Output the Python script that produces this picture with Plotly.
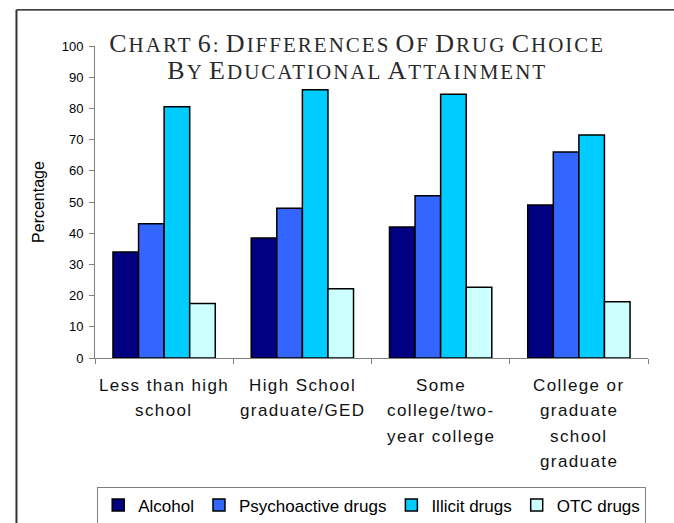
import plotly.graph_objects as go

# Education levels (x categories) and drug-choice percentages per series
categories = [
    "Less than high<br>school",
    "High School<br>graduate/GED",
    "Some<br>college/two-<br>year college",
    "College or<br>graduate<br>school<br>graduate",
]
alcohol = [34, 38.5, 42, 49]
psychoactive = [43, 48, 52, 66]
illicit = [80.5, 86, 84.5, 71.5]
otc = [17.5, 22.2, 22.7, 18]

series_names = ["Alcohol", "Psychoactive drugs", "Illicit drugs", "OTC drugs"]
series_values = [alcohol, psychoactive, illicit, otc]
series_colors = ["#000080", "#3366FF", "#00CCFF", "#CCFFFF"]

y_ticks = list(range(0, 101, 10))

fig = go.Figure()
for name, vals, col in zip(series_names, series_values, series_colors):
    fig.add_trace(go.Bar(
        x=categories, y=vals, name=name,
        marker=dict(color=col, line=dict(color="#000000", width=1.5)),
    ))

# Small-caps style title built from spans
def small_caps(text, big=26, small=21, spacing=2):
    out = []
    for word in text.split(" "):
        if not word:
            continue
        first, rest = word[0], word[1:]
        seg = f'<span style="font-size:{big}px;letter-spacing:{spacing}px">{first.upper()}</span>'
        if rest:
            seg += f'<span style="font-size:{small}px;letter-spacing:{spacing}px">{rest.upper()}</span>'
        out.append(seg)
    return " ".join(out)

title_text = small_caps("Chart 6: Differences of Drug Choice") + "<br>" + \
    small_caps("by Educational Attainment")

fig.update_layout(
    width=674, height=523,
    margin=dict(l=95, r=26, t=46, b=165, autoexpand=False),
    paper_bgcolor="white", plot_bgcolor="white",
    barmode="group", bargap=0.26, bargroupgap=0,
    font=dict(family="Liberation Sans, Arial, sans-serif", color="#000000"),
    title=dict(
        text=title_text,
        font=dict(family="Liberation Serif, Times New Roman, serif", size=21, color="#2a2a2a"),
        x=0.53, xanchor="center", xref="container",
        y=1 - 52 / 523, yanchor="top", yref="container",
    ),
    showlegend=True,
    legend=dict(
        orientation="h",
        x=0.004, xanchor="left", y=-0.412, yanchor="top",
        bordercolor="#808080", borderwidth=1,
        font=dict(size=17, family="Liberation Sans, Arial, sans-serif"),
        itemwidth=30, traceorder="normal",
    ),
)

fig.update_yaxes(
    range=[0, 100], tickvals=y_ticks,
    showgrid=False, zeroline=False,
    showline=True, linecolor="#808080", linewidth=1,
    ticks="outside", ticklen=5, tickcolor="#808080",
    tickfont=dict(size=13), ticklabelstandoff=3,
    title=dict(text="Percentage", font=dict(size=16), standoff=13),
)
fig.update_xaxes(
    showline=True, linecolor="#808080", linewidth=1,
    ticks="outside", ticklen=5, tickcolor="#808080",
    tickson="boundaries", showticklabels=False, showgrid=False,
)

# Category labels, one annotation per text line
line_gap = 25.5
for cat in categories:
    for i, line in enumerate(cat.split("<br>")):
        fig.add_annotation(
            x=cat, xref="x", y=0, yref="paper",
            text=f'<span style="letter-spacing:1.4px">{line}</span>',
            showarrow=False,
            xanchor="center", yanchor="middle",
            yshift=-(27 + line_gap * i),
            font=dict(size=17, color="#111111"),
        )

# Outer chart frame (top and left edges)
fig.add_shape(type="line", xref="paper", yref="paper",
              x0=-0.142, x1=1.1, y0=1.116, y1=1.116,
              line=dict(color="#000000", width=1.3))
fig.add_shape(type="line", xref="paper", yref="paper",
              x0=-0.142, x1=-0.142, y0=1.116, y1=-0.6,
              line=dict(color="#333333", width=2))

fig.write_html("out.html")
